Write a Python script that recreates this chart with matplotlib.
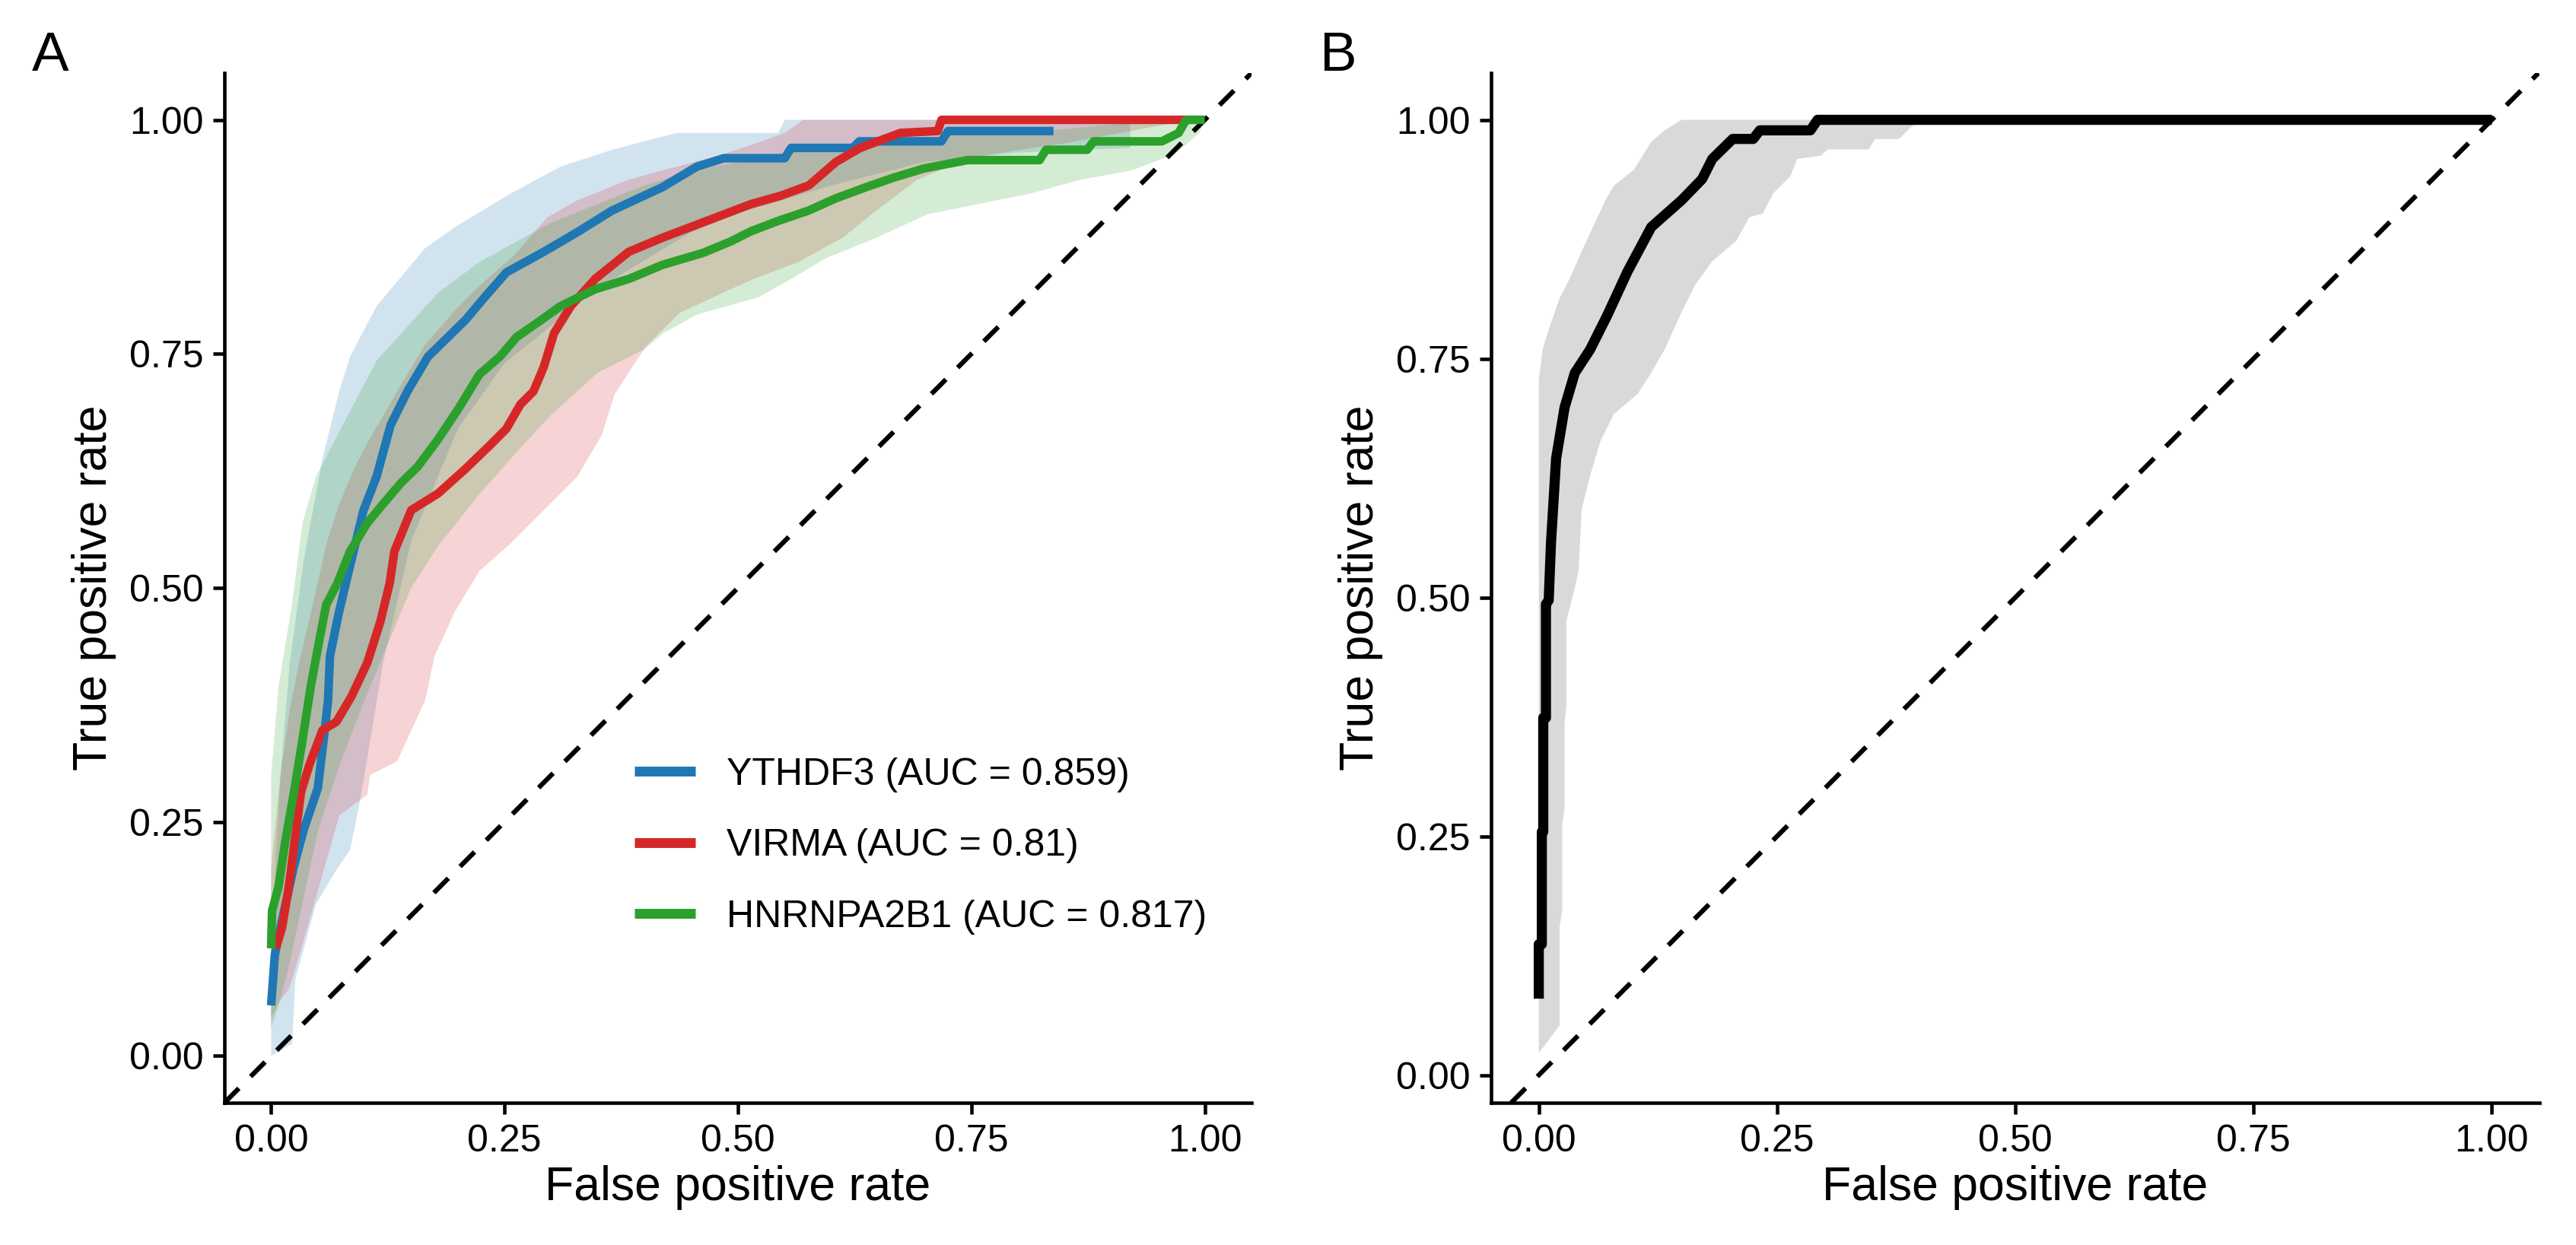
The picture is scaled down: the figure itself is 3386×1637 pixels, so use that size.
import numpy as np
import matplotlib
matplotlib.use('Agg')
import matplotlib.pyplot as plt

plt.rcParams['font.family'] = ['Liberation Sans', 'DejaVu Sans']

# ---- panel A: mean ROC curves ----
labels = ['YTHDF3 (AUC = 0.859)', 'VIRMA (AUC = 0.81)', 'HNRNPA2B1 (AUC = 0.817)']
colors = ['#1f77b4', '#d62728', '#2ca02c']

ythdf3_fpr = [0.0, 0.004, 0.01, 0.0245, 0.035, 0.05, 0.057, 0.061, 0.063, 0.072, 0.08, 0.099, 0.113,
              0.128, 0.146, 0.168, 0.208, 0.23, 0.252, 0.292, 0.328, 0.365, 0.419, 0.456, 0.485, 0.55,
              0.557, 0.623, 0.63, 0.718, 0.725, 0.838]
ythdf3_tpr = [0.054, 0.108, 0.137, 0.203, 0.242, 0.286, 0.344, 0.38, 0.427, 0.471, 0.505, 0.583, 0.619,
              0.674, 0.71, 0.747, 0.786, 0.812, 0.837, 0.859, 0.88, 0.903, 0.928, 0.95, 0.959, 0.959,
              0.97, 0.97, 0.977, 0.977, 0.988, 0.988]
ythdf3_up_x = [0.0, 0.01, 0.02, 0.035, 0.055, 0.073, 0.0845, 0.113, 0.165, 0.201, 0.256, 0.31, 0.365,
               0.434, 0.543, 0.55, 0.92]
ythdf3_up_y = [0.12, 0.3, 0.42, 0.53, 0.638, 0.71, 0.747, 0.801, 0.863, 0.888, 0.921, 0.95, 0.968,
               0.986, 0.986, 1.0, 1.0]
ythdf3_lo_x = [0.0, 0.0226, 0.026, 0.048, 0.07, 0.0845, 0.095, 0.12, 0.15, 0.2, 0.25, 0.3, 0.35, 0.4,
               0.45, 0.5, 0.55, 0.6, 0.7, 0.8, 0.92]
ythdf3_lo_y = [0.0, 0.013, 0.082, 0.162, 0.199, 0.22, 0.271, 0.42, 0.55, 0.67, 0.74, 0.78, 0.82, 0.85,
               0.88, 0.9, 0.915, 0.93, 0.955, 0.965, 0.97]

virma_fpr = [0.005, 0.0117, 0.019, 0.032, 0.041, 0.055, 0.07, 0.086, 0.103, 0.117, 0.127, 0.132, 0.15,
             0.179, 0.208, 0.234, 0.252, 0.267, 0.281, 0.292, 0.303, 0.321, 0.347, 0.383, 0.419, 0.456,
             0.485, 0.514, 0.546, 0.576, 0.605, 0.631, 0.674, 0.714, 0.718, 0.985]
virma_tpr = [0.115, 0.137, 0.181, 0.282, 0.311, 0.348, 0.357, 0.384, 0.42, 0.464, 0.505, 0.539, 0.583,
             0.601, 0.627, 0.652, 0.67, 0.696, 0.71, 0.736, 0.772, 0.801, 0.83, 0.859, 0.874, 0.888,
             0.899, 0.91, 0.919, 0.93, 0.955, 0.97, 0.986, 0.988, 1.0, 1.0]
virma_up_x = [0.0, 0.01, 0.02, 0.03, 0.044, 0.06, 0.073, 0.09, 0.106, 0.135, 0.165, 0.2, 0.22, 0.26,
              0.296, 0.328, 0.383, 0.419, 0.48, 0.52, 0.55, 0.57, 0.985]
virma_up_y = [0.2, 0.3, 0.37, 0.42, 0.48, 0.55, 0.59, 0.63, 0.66, 0.71, 0.76, 0.8, 0.82, 0.855,
              0.896, 0.914, 0.936, 0.946, 0.962, 0.975, 0.986, 1.0, 1.0]
virma_lo_x = [0.0, 0.01, 0.019, 0.0226, 0.044, 0.073, 0.103, 0.106, 0.135, 0.165, 0.175, 0.197, 0.223,
              0.256, 0.292, 0.328, 0.354, 0.368, 0.401, 0.438, 0.492, 0.517, 0.5645, 0.612, 0.648,
              0.692, 0.75, 0.85, 0.985]
virma_lo_y = [0.04, 0.06, 0.0715, 0.082, 0.155, 0.257, 0.279, 0.3, 0.315, 0.38, 0.427, 0.475, 0.518,
              0.547, 0.583, 0.619, 0.663, 0.707, 0.7575, 0.794, 0.819, 0.83, 0.848, 0.874, 0.903,
              0.936, 0.96, 0.975, 1.0]

hnrnpa2b1_fpr = [0.0, 0.001, 0.008, 0.015, 0.0245, 0.0335, 0.0425, 0.052, 0.059, 0.071, 0.0845, 0.1028,
                 0.121, 0.139, 0.157, 0.179, 0.201, 0.223, 0.245, 0.263, 0.289, 0.31, 0.347, 0.383,
                 0.419, 0.463, 0.492, 0.514, 0.543, 0.5755, 0.6045, 0.637, 0.666, 0.699, 0.746, 0.823,
                 0.83, 0.874, 0.881, 0.954, 0.972, 0.98, 1.0]
hnrnpa2b1_tpr = [0.115, 0.155, 0.181, 0.228, 0.282, 0.337, 0.395, 0.446, 0.482, 0.505, 0.539, 0.569,
                 0.591, 0.612, 0.6295, 0.659, 0.692, 0.728, 0.747, 0.768, 0.786, 0.801, 0.819, 0.83,
                 0.845, 0.858, 0.87, 0.881, 0.892, 0.903, 0.916, 0.928, 0.938, 0.948, 0.957, 0.957,
                 0.968, 0.968, 0.977, 0.977, 0.986, 1.0, 1.0]
hnrnpa2b1_up_x = [0.0, 0.008, 0.0226, 0.0335, 0.048, 0.073, 0.113, 0.179, 0.223, 0.263, 0.3, 0.35, 0.4,
                  0.45, 0.55, 0.65, 0.75, 0.85, 0.95, 1.0]
hnrnpa2b1_up_y = [0.3, 0.395, 0.484, 0.569, 0.619, 0.667, 0.743, 0.8155, 0.848, 0.87, 0.89, 0.91, 0.93,
                  0.945, 0.965, 0.978, 0.985, 0.99, 1.0, 1.0]
hnrnpa2b1_lo_x = [0.0, 0.01, 0.02, 0.035, 0.05, 0.073, 0.1, 0.15, 0.179, 0.223, 0.263, 0.3, 0.35, 0.4,
                  0.42, 0.456, 0.4845, 0.521, 0.557, 0.594, 0.648, 0.703, 0.757, 0.812, 0.867, 0.922,
                  0.969, 0.994, 1.0]
hnrnpa2b1_lo_y = [0.03, 0.06, 0.1, 0.17, 0.24, 0.31, 0.38, 0.5, 0.545, 0.6, 0.645, 0.685, 0.73, 0.755,
                  0.772, 0.792, 0.8, 0.81, 0.83, 0.852, 0.874, 0.899, 0.91, 0.921, 0.936, 0.946,
                  0.964, 0.986, 1.0]

# ---- panel B: combined model ----
combo_fpr = [0.0, 0.0, 0.0032, 0.0032, 0.0047, 0.0047, 0.0075, 0.0075, 0.0104, 0.0128, 0.0182, 0.0271,
             0.0378, 0.0539, 0.0717, 0.093, 0.118, 0.15, 0.1714, 0.182, 0.2035, 0.225, 0.232, 0.285,
             0.2925, 1.0]
combo_tpr = [0.08, 0.137, 0.137, 0.2546, 0.2546, 0.374, 0.374, 0.493, 0.497, 0.557, 0.6456, 0.699,
             0.735, 0.7596, 0.795, 0.841, 0.8877, 0.916, 0.938, 0.959, 0.98, 0.98, 0.989, 0.989,
             1.0, 1.0]
combo_up_x = [0.0, 0.0, 0.004, 0.0093, 0.0218, 0.0325, 0.0467, 0.07, 0.0788, 0.1, 0.118, 0.132, 0.15, 0.4]
combo_up_y = [0.023, 0.7275, 0.7596, 0.777, 0.813, 0.834, 0.866, 0.916, 0.931, 0.948, 0.977, 0.989,
              1.0, 1.0]
combo_lo_x = [0.0, 0.0218, 0.0218, 0.0246, 0.0246, 0.0271, 0.0271, 0.0289, 0.0289, 0.038, 0.0418,
              0.045, 0.054, 0.0645, 0.0788, 0.1037, 0.118, 0.132, 0.15, 0.164, 0.182, 0.207, 0.221,
              0.235, 0.246, 0.264, 0.271, 0.296, 0.303, 0.346, 0.353, 0.378, 0.389, 0.4]
combo_lo_y = [0.023, 0.052, 0.155, 0.173, 0.262, 0.28, 0.369, 0.386, 0.475, 0.511, 0.529, 0.5925,
              0.628, 0.663, 0.692, 0.713, 0.735, 0.7596, 0.799, 0.827, 0.852, 0.873, 0.898, 0.902,
              0.923, 0.941, 0.959, 0.9625, 0.969, 0.969, 0.98, 0.98, 0.991, 1.0]

ticks = [0.0, 0.25, 0.5, 0.75, 1.0]


def ribbon(ax, up_x, up_y, lo_x, lo_y, **kw):
    xs = np.r_[up_x, lo_x[::-1]]
    ys = np.r_[up_y, lo_y[::-1]]
    ax.fill(xs, ys, lw=0, **kw)


def style_axes(ax):
    for s in ['top', 'right']:
        ax.spines[s].set_visible(False)
    for s in ['left', 'bottom']:
        ax.spines[s].set_linewidth(1.1)
    ax.set_xticks(ticks)
    ax.set_yticks(ticks)
    ax.set_xticklabels([f'{t:.2f}' for t in ticks])
    ax.set_yticklabels([f'{t:.2f}' for t in ticks])
    ax.tick_params(length=3.6, width=1.1, labelsize=12, pad=3, colors='black')
    ax.set_xlabel('False positive rate', fontsize=15, labelpad=2)
    ax.set_ylabel('True positive rate', fontsize=15, labelpad=4)
    ax.axline((0, 0), (1, 1), color='black', lw=1.5, dashes=(4.3, 3.5), zorder=2)


fig = plt.figure(figsize=(3386 / 300, 1637 / 300), dpi=300)
axA = fig.add_axes([295 / 3386, 1 - 1450 / 1637, 1350 / 3386, 1354 / 1637])
axB = fig.add_axes([1960 / 3386, 1 - 1450 / 1637, 1378 / 3386, 1354 / 1637])

series = [
    (ythdf3_fpr, ythdf3_tpr, ythdf3_up_x, ythdf3_up_y, ythdf3_lo_x, ythdf3_lo_y),
    (virma_fpr, virma_tpr, virma_up_x, virma_up_y, virma_lo_x, virma_lo_y),
    (hnrnpa2b1_fpr, hnrnpa2b1_tpr, hnrnpa2b1_up_x, hnrnpa2b1_up_y, hnrnpa2b1_lo_x, hnrnpa2b1_lo_y),
]
for (fx, ty, ux, uy, lx, ly), c in zip(series, colors):
    ribbon(axA, ux, uy, lx, ly, color=c, alpha=0.2, zorder=1)
for (fx, ty, ux, uy, lx, ly), c, lab in zip(series, colors, labels):
    axA.plot(fx, ty, color=c, lw=2.7, label=lab, zorder=3, solid_capstyle='butt')

style_axes(axA)
axA.set_xlim(-0.05, 1.05)
axA.set_ylim(-0.05, 1.05)
leg = axA.legend(loc='center left', bbox_to_anchor=(0.3993, 0.2496), frameon=False, fontsize=12,
                 handlelength=1.6, handletextpad=0.82, labelspacing=0.95, borderpad=0, borderaxespad=0)
for h in leg.get_lines():
    h.set_linewidth(3.1)

ribbon(axB, combo_up_x, combo_up_y, combo_lo_x, combo_lo_y, color='#d9d9d9', zorder=1)
axB.plot(combo_fpr, combo_tpr, color='black', lw=3.2, zorder=3, solid_capstyle='butt')
style_axes(axB)
axB.set_xlim(-0.05, 1.05)
axB.set_ylim(-0.029, 1.049)

fig.text(42 / 3386, 1 - 93 / 1637, 'A', fontsize=17.5, va='baseline', ha='left')
fig.text(1735 / 3386, 1 - 93 / 1637, 'B', fontsize=17.5, va='baseline', ha='left')

fig.savefig('out.png', dpi=300)
plt.close(fig)
